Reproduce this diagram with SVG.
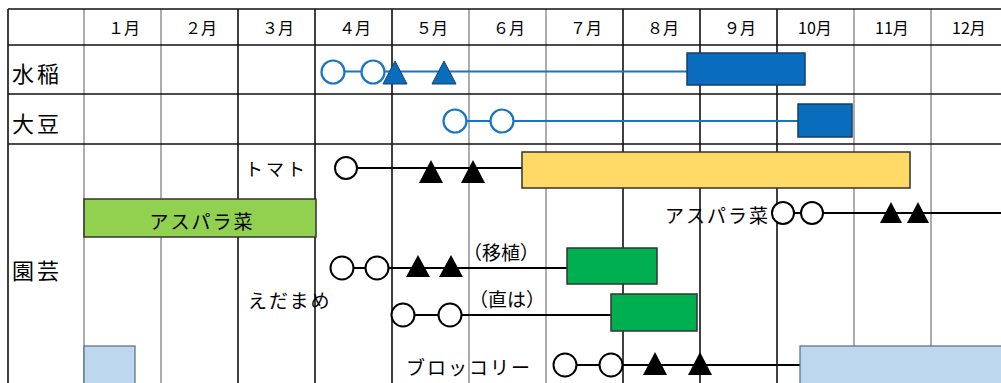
<svg xmlns="http://www.w3.org/2000/svg" width="1001" height="383" viewBox="0 0 1001 383">
<style>
text{font-family:"Noto Sans CJK JP","Noto Sans",sans-serif;fill:#000;dominant-baseline:central}
.hd{font-size:16px;text-anchor:middle}
.rl{font-size:22px;letter-spacing:3px}
.lb{font-size:19px;letter-spacing:2px}
.gd{stroke:#111;stroke-width:1.6;fill:none}
.gl{stroke:#777;stroke-width:1.2;fill:none}
.bl{stroke:#1a74c4;stroke-width:2;fill:none}
.bk{stroke:#000;stroke-width:2;fill:none}
.bc{fill:#fff;stroke:#1a74c4;stroke-width:2.2}
.kc{fill:#fff;stroke:#000;stroke-width:2}
.bt{fill:#0a6cbd;stroke:#163e6b;stroke-width:1}
.kt{fill:#000}
.bar{stroke:#333;stroke-width:1.5}
</style>
<rect width="1001" height="383" fill="#fff"/>
<g id="grid">
<path class="gl" d="M84,9V383M161,9V383M469,9V383M546,9V383M854,9V383M931,9V383"/>
<path class="gd" d="M8,9V383M238,9V383M315,9V383M392,9V383M623,9V383M700,9V383M777,9V383"/>
<path class="gd" d="M8,9H1001M8,45H1001M8,94H1001M8,144H1001"/>
</g>
<g id="header">
<text class="hd" x="124" y="27">１月</text>
<text class="hd" x="201" y="27">２月</text>
<text class="hd" x="278" y="27">３月</text>
<text class="hd" x="355" y="27">４月</text>
<text class="hd" x="432" y="27">５月</text>
<text class="hd" x="509" y="27">６月</text>
<text class="hd" x="586" y="27">７月</text>
<text class="hd" x="663" y="27">８月</text>
<text class="hd" x="740" y="27">９月</text>
<text class="hd" x="815" y="27">10月</text>
<text class="hd" x="892" y="27">11月</text>
<text class="hd" x="969" y="27">12月</text>
</g>
<g id="rowlabels">
<text class="rl" x="12" y="72">水稲</text>
<text class="rl" x="12" y="122">大豆</text>
<text class="rl" x="12" y="269">園芸</text>
</g>
<g id="connectors">
<path class="bl" d="M333,71.5H687"/>
<path class="bl" d="M455,121H798"/>
<path class="bk" d="M346,168H522"/>
<path class="bk" d="M783,213H1001"/>
<path class="bk" d="M342,268H567"/>
<path class="bk" d="M403,315H611"/>
<path class="bk" d="M565,365H800"/>
</g>
<g id="rice">
<rect class="bt" x="687" y="53" width="118" height="32" style="stroke-width:1.5"/>
<circle class="bc" cx="333" cy="72" r="11.5"/>
<circle class="bc" cx="373" cy="72" r="11.5"/>
<polygon class="bt" points="395,61 383,84 407,84"/>
<polygon class="bt" points="444,61 432,84 456,84"/>
</g>
<g id="soybean">
<rect class="bt" x="798" y="104" width="54" height="33" style="stroke-width:1.5"/>
<circle class="bc" cx="455" cy="121" r="11.5"/>
<circle class="bc" cx="502" cy="121" r="11.5"/>
</g>
<g id="tomato">
<text class="lb" x="245" y="168" style="font-size:18px;letter-spacing:3px">トマト</text>
<rect class="bar" x="522" y="152" width="388" height="36" fill="#ffd966"/>
<circle class="kc" cx="346" cy="168" r="11"/>
<polygon class="kt" points="431,160 419,183 443,183"/>
<polygon class="kt" points="473,160 461,183 485,183"/>
</g>
<g id="asparana-spring">
<rect class="bar" x="84" y="199" width="232" height="38" fill="#92d050"/>
<text class="lb" x="202" y="220" text-anchor="middle">アスパラ菜</text>
</g>
<g id="asparana-autumn">
<text class="lb" x="770" y="214" text-anchor="end">アスパラ菜</text>
<circle class="kc" cx="783" cy="213" r="11"/>
<circle class="kc" cx="812" cy="213" r="11"/>
<polygon class="kt" points="891,202 880,223 902,223"/>
<polygon class="kt" points="918,202 907,223 929,223"/>
</g>
<g id="edamame-transplant">
<text class="lb" x="463" y="251" style="letter-spacing:0">（移植）</text>
<rect class="bar" x="567" y="248" width="90" height="36" fill="#00b050"/>
<circle class="kc" cx="342" cy="268" r="11.5"/>
<circle class="kc" cx="377" cy="268" r="11.5"/>
<polygon class="kt" points="418,255 406,277 430,277"/>
<polygon class="kt" points="451,255 439,277 463,277"/>
</g>
<g id="edamame-label">
<text class="lb" x="248" y="299">えだまめ</text>
</g>
<g id="edamame-direct">
<text class="lb" x="469" y="298" style="letter-spacing:0">（直は）</text>
<rect class="bar" x="611" y="294" width="86" height="37" fill="#00b050"/>
<circle class="kc" cx="403" cy="315" r="11.5"/>
<circle class="kc" cx="450" cy="315" r="11.5"/>
</g>
<g id="broccoli">
<rect x="84" y="346" width="51" height="45" fill="#bdd7ee" stroke="#5a6a80" stroke-width="1.2"/>
<text class="lb" x="406" y="366">ブロッコリー</text>
<rect x="800" y="346" width="210" height="45" fill="#bdd7ee" stroke="#5a6a80" stroke-width="1.2"/>
<circle class="kc" cx="565" cy="365" r="11.5"/>
<circle class="kc" cx="611" cy="365" r="11.5"/>
<polygon class="kt" points="655,352 643,375 667,375"/>
<polygon class="kt" points="700,352 688,375 712,375"/>
</g>
</svg>
